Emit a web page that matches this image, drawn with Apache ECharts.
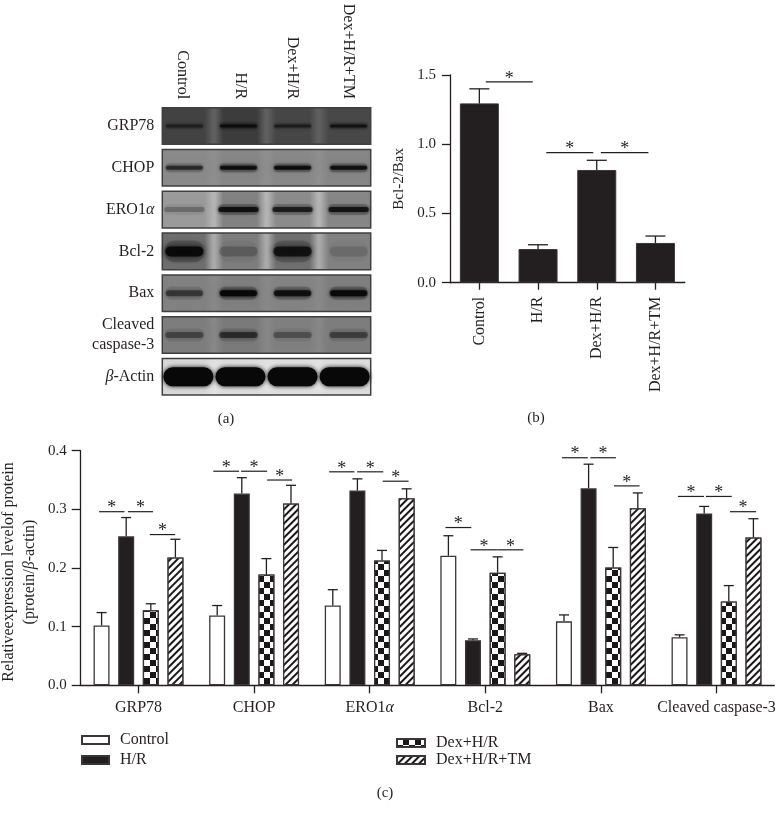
<!DOCTYPE html>
<html><head><meta charset="utf-8">
<style>html,body{margin:0;padding:0;background:#fff}#c{width:777px;height:814px}</style>
<script src="https://cdn.jsdelivr.net/npm/echarts@6/dist/echarts.min.js"></script>
</head><body><div id="c"></div>
<script>
// ---------- data ----------
const lanes = ['Control','H/R','Dex+H/R','Dex+H/R+TM'];
const proteins = ['GRP78','CHOP','ERO1α','Bcl-2','Bax','Cleaved\ncaspase-3','β-Actin'];
// panel (a): estimated band darkness per protein/lane
const bandGRP78 = [0.50,0.85,0.55,0.75];
const bandCHOP = [0.62,0.88,0.88,0.85];
const bandERO = [0.25,0.85,0.72,0.80];
const bandBcl = [0.95,0.22,0.80,0.14];
const bandBax = [0.50,0.98,0.85,0.96];
const bandCasp = [0.38,0.55,0.32,0.42];
const bandActin = [1,1,1,1];
// panel (a): estimated film grey level per protein (lane area, gap between lanes)
const filmGRP78 = [[66,60,70,72],95];
const filmCHOP = [[138,134,136,134],142];
const filmERO = [[155,130,140,135],180];
const filmBcl = [[110,125,112,130],170];
const filmBax = [[130,128,132,128],136];
const filmCasp = [[125,122,128,124],135];
const filmActin = [[215,220,222,220],225];
// panel (b)
const ratioValues = [1.295,0.243,0.814,0.287];
const ratioUpper = [1.40,0.274,0.884,0.337];
const ratioBrackets = [[0,0.11,0.91,1.45],[0,1.14,1.94,0.939],[0,2.07,2.88,0.939]];
// panel (c)
const targets = ['GRP78','CHOP','ERO1α','Bcl-2','Bax','Cleaved caspase-3'];
const controlVals = [0.102,0.119,0.136,0.221,0.109,0.082];
const hrVals = [0.254,0.327,0.332,0.077,0.336,0.293];
const dexVals = [0.128,0.189,0.213,0.192,0.201,0.143];
const dexTmVals = [0.218,0.310,0.319,0.053,0.302,0.252];
const controlUpper = [0.124,0.136,0.163,0.255,0.120,0.086];
const hrUpper = [0.286,0.354,0.352,0.079,0.377,0.305];
const dexUpper = [0.139,0.216,0.230,0.219,0.235,0.170];
const dexTmUpper = [0.249,0.341,0.335,0.0545,0.328,0.284];
// [group, from bar, to bar, height]
const targetBrackets = [
 [0,-0.10,0.93,0.296],[0,1.07,2.09,0.296],[0,1.96,2.99,0.257],
 [1,-0.16,0.89,0.365],[1,0.97,2.03,0.365],[1,2.03,3.05,0.350],
 [2,-0.15,0.88,0.364],[2,0.99,2.05,0.364],[2,2.03,3.08,0.348],
 [3,-0.12,0.93,0.269],[3,0.90,1.99,0.231],[3,1.99,3.05,0.231],
 [4,-0.08,0.97,0.388],[4,1.07,2.11,0.388],[4,2.03,3.07,0.340],
 [5,-0.07,0.99,0.322],[5,1.07,2.12,0.322],[5,2.05,3.11,0.296]
];
// ---------- styles ----------
const INK='#231f20', FONT='"Liberation Serif",serif';
const greek = s => s.replace('α','{i|α}').replace('β','{i|β}');
const italicRich = {i:{fontStyle:'italic',fontFamily:FONT,fontSize:16,color:INK}};
const axisLine = {show:true,lineStyle:{color:INK,width:1.3}};
const axisTick = {show:true,length:8,lineStyle:{color:INK,width:1.3},alignWithLabel:true};
const checker = {symbol:'rect',symbolSize:1,color:'#1a1718',backgroundColor:'#fff',
  dashArrayX:[[5.4,5.4],[0,5.4,5.4,0]],dashArrayY:[5.4,0],rotation:0};
const hatch = {symbol:'rect',symbolSize:1,color:'#1a1718',backgroundColor:'#fff',
  dashArrayX:[1,0],dashArrayY:[2,3],rotation:-Math.PI/4};

const bandRows=[bandGRP78,bandCHOP,bandERO,bandBcl,bandBax,bandCasp,bandActin];
const filmRows=[filmGRP78,filmCHOP,filmERO,filmBcl,filmBax,filmCasp,filmActin];
const bandThick=[3,4,5,10,6,6,19];
const bandLength=[37,37,40,38,37,38,50];
const laneShift=[-4,-2,0,4];
const grey=g=>`rgb(${g},${g},${g})`;

function renderFilm(params,api){
  const p=api.value(0), c0=api.coord([0,p]), c3=api.coord([3,p]), band=api.size([1,1]);
  const w=band[0]*4, h=band[1]*0.875, x=(c0[0]+c3[0])/2-w/2, y=c0[1]-h/2;
  const [ls,gap]=filmRows[p];
  const stops=[];
  ls.forEach((g,i)=>{
    const a=i/4,b=(i+1)/4;
    stops.push({offset:a+0.005,color:grey(i?gap:ls[0])},{offset:a+0.045,color:grey(g)},
               {offset:b-0.045,color:grey(g)},{offset:b-0.005,color:grey(i<3?gap:g)});
  });
  return {type:'rect',shape:{x,y,width:w,height:h},
    style:{fill:new echarts.graphic.LinearGradient(0,0,1,0,stops),stroke:'#3f3f3f',lineWidth:1.5}};
}
function renderBand(params,api){
  const l=api.value(0),p=api.value(1),s=api.value(2);
  const c=api.coord([l,p]), len=bandLength[p], t=bandThick[p];
  const cx=c[0]+(p===6?0:laneShift[l]);
  const col=`rgba(8,8,8,${s})`, halo=`rgba(8,8,8,${s*0.22})`;
  const ht=t*2.2, hl=len+2;
  return {type:'group',children:[
    {type:'rect',shape:{x:cx-hl/2,y:c[1]-ht/2,width:hl,height:ht,r:ht/2},
      style:{fill:p===6?'rgba(0,0,0,0)':halo,shadowBlur:p===6?0:7,shadowColor:halo}},
    {type:'rect',shape:{x:cx-len/2,y:c[1]-t/2,width:len,height:t,r:t/2},
      style:{fill:col,shadowBlur:p===3?7:4,shadowColor:col}}]};
}
function errorRender(pitch,cap){
  return (params,api)=>{
    const g=api.value(0),b=api.value(1);
    const base=api.coord([g,api.value(2)]), top=api.coord([g,api.value(3)]);
    const x=base[0]+(pitch===0?0:(b-1.5)*pitch);
    const ls={stroke:INK,lineWidth:1.3};
    return {type:'group',children:[
      {type:'line',shape:{x1:x,y1:base[1],x2:x,y2:top[1]},style:ls},
      {type:'line',shape:{x1:x-cap/2,y1:top[1],x2:x+cap/2,y2:top[1]},style:ls}]};
  };
}
function bracketRender(origin,pitch){
  return (params,api)=>{
    const c=api.coord([api.value(0),api.value(3)]);
    const x0=c[0]+(api.value(1)-origin)*pitch, x1=c[0]+(api.value(2)-origin)*pitch;
    return {type:'group',children:[
      {type:'line',shape:{x1:x0,y1:c[1],x2:x1,y2:c[1]},style:{stroke:INK,lineWidth:1.2}},
      {type:'text',style:{x:(x0+x1)/2,y:c[1]-3,text:'*',fill:INK,font:'18px '+FONT,align:'center',verticalAlign:'middle'}}]};
  };
}
const caption=(text,x,y)=>({text,left:x,top:y,textAlign:'center',padding:0,
  textStyle:{fontFamily:FONT,fontSize:15,fontWeight:'normal',color:INK}});

const errC=[];
[[controlVals,controlUpper],[hrVals,hrUpper],[dexVals,dexUpper],[dexTmVals,dexTmUpper]].forEach((pair,b)=>{
  pair[0].forEach((v,g)=>errC.push([g,b,v,pair[1][g]]));
});
const barSeries=(name,data,itemStyle)=>({name,type:'bar',xAxisIndex:2,yAxisIndex:2,data,barWidth:16,barGap:'54%',
  itemStyle:Object.assign({borderColor:'#3a3637',borderWidth:1.3},itemStyle),z:2});
const laneRich={
  l0:{fontFamily:FONT,fontSize:16,color:INK,padding:[12,0,0,0]},
  l1:{fontFamily:FONT,fontSize:16,color:INK},
  l2:{fontFamily:FONT,fontSize:16,color:INK},
  l3:{fontFamily:FONT,fontSize:16,color:INK,padding:[0,0,8,0]}
};

const option={
  animation:false,backgroundColor:'#fff',textStyle:{fontFamily:FONT},
  title:[caption('(a)',226,412),caption('(b)',536,411),caption('(c)',385,786)],
  grid:[
    {left:162.3,top:105.1,width:208.4,height:292.6,outerBoundsMode:'none'},
    {left:450,top:75,width:234.8,height:207.7,outerBoundsMode:'none'},
    {left:80.7,top:450.7,width:693.6,height:234.6,outerBoundsMode:'none'}
  ],
  xAxis:[
    {gridIndex:0,type:'category',position:'top',data:lanes,
      axisLine:{show:false},axisTick:{show:false},
      axisLabel:{rotate:90,margin:6,fontFamily:FONT,fontSize:16,color:INK,interval:0,rich:laneRich,
        formatter:(v,i)=>`{l${i}|${v}}`}},
    {gridIndex:1,type:'category',data:lanes,axisLine,axisTick:Object.assign({},axisTick,{length:7}),
      axisLabel:{rotate:90,margin:14,fontFamily:FONT,fontSize:16,color:INK,interval:0}},
    {gridIndex:2,type:'category',data:targets,axisLine,axisTick,
      axisLabel:{margin:14,fontFamily:FONT,fontSize:16,color:INK,interval:0,rich:italicRich,formatter:greek}}
  ],
  yAxis:[
    {gridIndex:0,type:'category',inverse:true,data:proteins,axisLine:{show:false},axisTick:{show:false},
      axisLabel:{margin:8,fontFamily:FONT,fontSize:16,lineHeight:20,color:INK,align:'right',rich:italicRich,formatter:greek}},
    {gridIndex:1,type:'value',min:0,max:1.5,interval:0.5,name:'Bcl-2/Bax',nameLocation:'middle',nameGap:43,nameRotate:90,nameMoveOverlap:false,
      nameTextStyle:{fontFamily:FONT,fontSize:15,color:INK},
      splitLine:{show:false},axisLine,axisTick:{show:true,length:8,lineStyle:{color:INK,width:1.3}},
      axisLabel:{margin:14,fontFamily:FONT,fontSize:15,color:INK,formatter:v=>v.toFixed(1)}},
    {gridIndex:2,type:'value',min:0,max:0.4,interval:0.1,
      name:'Relativeexpression levelof protein\n{r|(protein/}{it|β}{r|-actin)}',nameLocation:'middle',nameGap:40,nameRotate:90,nameMoveOverlap:false,
      nameTextStyle:{fontFamily:FONT,fontSize:16,lineHeight:21,color:INK,padding:[0,8,0,0],
        rich:{r:{fontFamily:FONT,fontSize:16,color:INK},it:{fontFamily:FONT,fontSize:16,fontStyle:'italic',color:INK}}},
      splitLine:{show:false},axisLine,axisTick:{show:true,length:9,lineStyle:{color:INK,width:1.3}},
      axisLabel:{margin:14,fontFamily:FONT,fontSize:15,color:INK,formatter:v=>v.toFixed(1)}}
  ],
  legend:[
    {left:81,top:732,padding:0,icon:'rect',orient:'vertical',data:['Control','H/R'],itemWidth:27,itemHeight:8,itemGap:4,selectedMode:false,
      textStyle:{fontFamily:FONT,fontSize:16,color:INK,padding:[0,0,0,6]}},
    {left:396,top:735,padding:0,icon:'rect',orient:'vertical',data:['Dex+H/R','Dex+H/R+TM'],itemWidth:28,itemHeight:8,itemGap:1,selectedMode:false,
      textStyle:{fontFamily:FONT,fontSize:16,color:INK,padding:[0,0,0,6]}}
  ],
  series:[
    {type:'custom',name:'film',xAxisIndex:0,yAxisIndex:0,data:proteins.map((n,i)=>[i]),renderItem:renderFilm,encode:{y:0},z:1,silent:true},
    {type:'custom',name:'bands',xAxisIndex:0,yAxisIndex:0,
      data:bandRows.flatMap((r,p)=>r.map((s,l)=>[l,p,s])),renderItem:renderBand,encode:{x:0,y:1},z:2,silent:true},
    {type:'bar',name:'Bcl-2/Bax',xAxisIndex:1,yAxisIndex:1,data:ratioValues,barWidth:39,
      itemStyle:{color:INK,borderColor:'#3a3637',borderWidth:1},z:2},
    {type:'custom',name:'ratioErr',xAxisIndex:1,yAxisIndex:1,data:ratioValues.map((v,i)=>[i,0,v,ratioUpper[i]]),
      renderItem:errorRender(0,20),encode:{x:0,y:3},z:3},
    {type:'custom',name:'ratioSig',xAxisIndex:1,yAxisIndex:1,data:ratioBrackets,
      renderItem:bracketRender(0,58.7),encode:{x:0,y:3},z:3},
    barSeries('Control',controlVals,{color:'#fff'}),
    barSeries('H/R',hrVals,{color:INK}),
    barSeries('Dex+H/R',dexVals,{color:'#fff',decal:checker}),
    barSeries('Dex+H/R+TM',dexTmVals,{color:'#fff',decal:hatch}),
    {type:'custom',name:'targetErr',xAxisIndex:2,yAxisIndex:2,data:errC,renderItem:errorRender(24.6,10),encode:{x:0,y:3},z:3},
    {type:'custom',name:'targetSig',xAxisIndex:2,yAxisIndex:2,data:targetBrackets,renderItem:bracketRender(1.5,24.6),encode:{x:0,y:3},z:3}
  ]
};
echarts.init(document.getElementById('c')).setOption(option);
</script></body></html>
